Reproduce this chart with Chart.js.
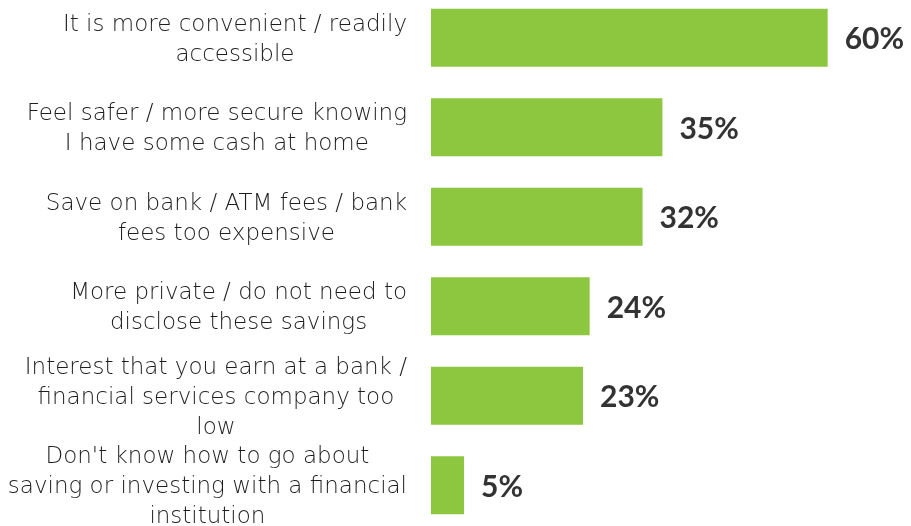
<!DOCTYPE html>
<html lang="en">
<head>
  <meta charset="UTF-8">
  <title>Reasons for keeping cash at home</title>
  <style>
    html, body {
      margin: 0;
      padding: 0;
      background: #ffffff;
      overflow: hidden;
    }

    .wrap {
      position: absolute;
      left: 0;
      top: -7px;
      width: 911px;
      height: 537px;
    }
  </style>
</head>
<body>
  <div class="wrap">
    <canvas id="reasonsChart"></canvas>
  </div>

  <script src="https://cdn.jsdelivr.net/npm/chart.js"></script>
  <script>
    const reasons = [
      ['It is more convenient / readily', 'accessible'],
      ['Feel safer / more secure knowing', 'I have some cash at home'],
      ['Save on bank / ATM fees / bank', 'fees too expensive'],
      ['More private / do not need to', 'disclose these savings'],
      ['Interest that you earn at a bank /', 'financial services company too', 'low'],
      ["Don't know how to go about", 'saving or investing with a financial', 'institution']
    ];
    const shares = [60, 35, 32, 24, 23, 5];

    const LABEL_FONT = '300 23px "DejaVu Sans"';
    const VALUE_FONT = '700 30px Lato';

    // category names, each block centred on its widest line, right edge at 407
    const categoryText = {
      id: 'categoryText',
      afterDraw(chart) {
        const ctx = chart.ctx;
        const yScale = chart.scales.y;
        ctx.save();
        ctx.font = LABEL_FONT;
        ctx.fillStyle = '#1e1e1e';
        ctx.textAlign = 'center';
        ctx.textBaseline = 'middle';
        chart.data.labels.forEach((lines, i) => {
          const widest = Math.max(...lines.map(l => ctx.measureText(l).width));
          const cx = 407 - widest / 2;
          const cy = yScale.getPixelForTick(i) + 2;
          const lh = 30;
          lines.forEach((line, j) => {
            ctx.fillText(line, cx, cy + (j - (lines.length - 1) / 2) * lh);
          });
        });
        ctx.restore();
      }
    };

    // percentage at the end of every bar
    const valueText = {
      id: 'valueText',
      afterDatasetsDraw(chart) {
        const ctx = chart.ctx;
        const meta = chart.getDatasetMeta(0);
        ctx.save();
        ctx.font = VALUE_FONT;
        ctx.fillStyle = '#333333';
        ctx.textAlign = 'left';
        ctx.textBaseline = 'middle';
        meta.data.forEach((bar, i) => {
          ctx.fillText(chart.data.datasets[0].data[i] + '%', bar.x + 17, bar.y + 2);
        });
        ctx.restore();
      }
    };

    new Chart(document.getElementById('reasonsChart'), {
      type: 'bar',
      data: {
        labels: reasons,
        datasets: [{
          data: shares,
          backgroundColor: '#8dc63f',
          borderWidth: 0,
          barPercentage: 0.648,
          categoryPercentage: 1
        }]
      },
      options: {
        indexAxis: 'y',
        responsive: true,
        maintainAspectRatio: false,
        animation: false,
        layout: {
          padding: { left: 0, right: 4, top: 0, bottom: 0 }
        },
        plugins: {
          legend: { display: false },
          tooltip: { enabled: false }
        },
        scales: {
          x: {
            display: false,
            min: 0,
            max: 72
          },
          y: {
            grid: { display: false, drawTicks: false },
            border: { display: false },
            ticks: { display: false },
            afterFit(scale) {
              scale.width = 431;
            }
          }
        }
      },
      plugins: [categoryText, valueText]
    });
  </script>
</body>
</html>
